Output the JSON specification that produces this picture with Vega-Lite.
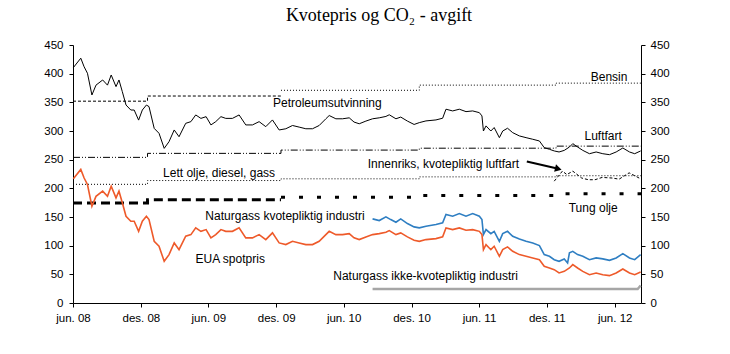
{
  "$schema": "https://vega.github.io/schema/vega-lite/v6.json",
  "width": 568,
  "height": 258,
  "autosize": "none",
  "padding": {"left": 73, "top": 45, "right": 89, "bottom": 51},
  "background": "white",
  "title": {
    "text": "Kvotepris og CO₂ - avgift",
    "font": "Liberation Serif",
    "fontSize": 18,
    "fontWeight": "normal",
    "color": "#000",
    "anchor": "middle",
    "offset": 14,
    "dx": 22
  },
  "config": {
    "view": {"stroke": null},
    "axis": {
      "domainColor": "#000",
      "tickColor": "#000",
      "labelColor": "#000",
      "labelFont": "Liberation Sans",
      "labelFontSize": 11.5,
      "grid": false,
      "tickSize": 4,
      "domainWidth": 1,
      "tickWidth": 1
    }
  },
  "datasets": {
    "eua": [
      {"t": "2008-06-02", "v": 216.6}, {"t": "2008-06-22", "v": 233}, {"t": "2008-07-01", "v": 218}, {"t": "2008-07-10", "v": 206.7},
      {"t": "2008-07-22", "v": 168.8}, {"t": "2008-08-02", "v": 186}, {"t": "2008-08-20", "v": 195}, {"t": "2008-09-02", "v": 186},
      {"t": "2008-09-12", "v": 203.7}, {"t": "2008-09-25", "v": 183.4}, {"t": "2008-10-03", "v": 195}, {"t": "2008-10-12", "v": 174.7},
      {"t": "2008-10-22", "v": 151.3}, {"t": "2008-11-04", "v": 142.6}, {"t": "2008-11-13", "v": 142.6}, {"t": "2008-11-25", "v": 125},
      {"t": "2008-12-05", "v": 142.6}, {"t": "2008-12-16", "v": 151.3}, {"t": "2008-12-23", "v": 145.5}, {"t": "2009-01-06", "v": 107.6},
      {"t": "2009-01-19", "v": 99}, {"t": "2009-02-02", "v": 72.7}, {"t": "2009-02-15", "v": 84.4}, {"t": "2009-03-01", "v": 104.8},
      {"t": "2009-03-14", "v": 93}, {"t": "2009-04-01", "v": 116.4}, {"t": "2009-04-15", "v": 119.3}, {"t": "2009-04-28", "v": 131},
      {"t": "2009-05-12", "v": 125}, {"t": "2009-05-26", "v": 128}, {"t": "2009-06-08", "v": 113.6}, {"t": "2009-06-21", "v": 119.3},
      {"t": "2009-07-05", "v": 128}, {"t": "2009-07-18", "v": 125}, {"t": "2009-08-05", "v": 125}, {"t": "2009-08-23", "v": 131},
      {"t": "2009-09-10", "v": 113.6}, {"t": "2009-09-28", "v": 113.6}, {"t": "2009-10-16", "v": 119.3}, {"t": "2009-11-03", "v": 110.6},
      {"t": "2009-11-21", "v": 122.3}, {"t": "2009-12-09", "v": 104.8}, {"t": "2009-12-27", "v": 101.9}, {"t": "2010-01-14", "v": 107.6},
      {"t": "2010-02-01", "v": 104.8}, {"t": "2010-02-19", "v": 101.9}, {"t": "2010-03-09", "v": 101.9}, {"t": "2010-03-27", "v": 107.6},
      {"t": "2010-04-14", "v": 119.3}, {"t": "2010-04-23", "v": 125}, {"t": "2010-05-11", "v": 119.3}, {"t": "2010-05-29", "v": 119.3},
      {"t": "2010-06-16", "v": 121}, {"t": "2010-06-29", "v": 113.6}, {"t": "2010-07-13", "v": 110.6}, {"t": "2010-07-31", "v": 115.3},
      {"t": "2010-08-18", "v": 119.3}, {"t": "2010-09-05", "v": 121}, {"t": "2010-09-23", "v": 123.4}, {"t": "2010-10-02", "v": 126.3},
      {"t": "2010-10-20", "v": 119.3}, {"t": "2010-11-02", "v": 122.3}, {"t": "2010-11-20", "v": 115.3}, {"t": "2010-12-08", "v": 109.4},
      {"t": "2010-12-22", "v": 107.6}, {"t": "2011-01-09", "v": 110.6}, {"t": "2011-02-05", "v": 112.3}, {"t": "2011-02-23", "v": 115.3},
      {"t": "2011-03-04", "v": 131}, {"t": "2011-03-22", "v": 128}, {"t": "2011-04-09", "v": 131}, {"t": "2011-04-27", "v": 126.8},
      {"t": "2011-05-15", "v": 128}, {"t": "2011-06-02", "v": 125}, {"t": "2011-06-09", "v": 119.3}, {"t": "2011-06-13", "v": 93},
      {"t": "2011-06-20", "v": 101.9}, {"t": "2011-07-03", "v": 93}, {"t": "2011-07-12", "v": 99}, {"t": "2011-07-26", "v": 81.4},
      {"t": "2011-08-04", "v": 93}, {"t": "2011-08-17", "v": 97.8}, {"t": "2011-08-31", "v": 90.1}, {"t": "2011-09-18", "v": 84.4},
      {"t": "2011-10-06", "v": 81.4}, {"t": "2011-10-24", "v": 78.6}, {"t": "2011-11-11", "v": 75.6}, {"t": "2011-11-24", "v": 64},
      {"t": "2011-12-08", "v": 61.1}, {"t": "2011-12-21", "v": 58.2}, {"t": "2012-01-03", "v": 52.4}, {"t": "2012-01-17", "v": 55.2},
      {"t": "2012-01-31", "v": 61.1}, {"t": "2012-02-09", "v": 66.9}, {"t": "2012-02-22", "v": 61.1}, {"t": "2012-03-07", "v": 55.2},
      {"t": "2012-03-25", "v": 49.4}, {"t": "2012-04-12", "v": 52.4}, {"t": "2012-04-30", "v": 49.4}, {"t": "2012-05-18", "v": 47.7},
      {"t": "2012-06-05", "v": 52.4}, {"t": "2012-06-23", "v": 59.4}, {"t": "2012-07-11", "v": 52.4}, {"t": "2012-07-25", "v": 49.4},
      {"t": "2012-08-10", "v": 54.2}
    ],
    "petro": [
      {"t": "2008-06-02", "v": 410.6}, {"t": "2008-06-22", "v": 427}, {"t": "2008-07-01", "v": 412}, {"t": "2008-07-10", "v": 400.7},
      {"t": "2008-07-22", "v": 362.8}, {"t": "2008-08-02", "v": 380}, {"t": "2008-08-20", "v": 389}, {"t": "2008-09-02", "v": 380},
      {"t": "2008-09-12", "v": 397.7}, {"t": "2008-09-25", "v": 377.4}, {"t": "2008-10-03", "v": 389}, {"t": "2008-10-12", "v": 368.7},
      {"t": "2008-10-22", "v": 345.3}, {"t": "2008-11-04", "v": 336.6}, {"t": "2008-11-13", "v": 336.6}, {"t": "2008-11-25", "v": 319},
      {"t": "2008-12-05", "v": 336.6}, {"t": "2008-12-16", "v": 345.3}, {"t": "2008-12-23", "v": 342.5}, {"t": "2009-01-06", "v": 304.6},
      {"t": "2009-01-19", "v": 296}, {"t": "2009-02-02", "v": 269.7}, {"t": "2009-02-15", "v": 281.4}, {"t": "2009-03-01", "v": 301.8},
      {"t": "2009-03-14", "v": 290}, {"t": "2009-04-01", "v": 313.4}, {"t": "2009-04-15", "v": 316.3}, {"t": "2009-04-28", "v": 328},
      {"t": "2009-05-12", "v": 322}, {"t": "2009-05-26", "v": 325}, {"t": "2009-06-08", "v": 310.6}, {"t": "2009-06-21", "v": 316.3},
      {"t": "2009-07-05", "v": 325}, {"t": "2009-07-18", "v": 322}, {"t": "2009-08-05", "v": 322}, {"t": "2009-08-23", "v": 328},
      {"t": "2009-09-10", "v": 310.6}, {"t": "2009-09-28", "v": 310.6}, {"t": "2009-10-16", "v": 316.3}, {"t": "2009-11-03", "v": 307.6},
      {"t": "2009-11-21", "v": 319.3}, {"t": "2009-12-09", "v": 301.8}, {"t": "2009-12-27", "v": 303.9}, {"t": "2010-01-14", "v": 309.6},
      {"t": "2010-02-01", "v": 306.8}, {"t": "2010-02-19", "v": 303.9}, {"t": "2010-03-09", "v": 303.9}, {"t": "2010-03-27", "v": 309.6},
      {"t": "2010-04-14", "v": 321.3}, {"t": "2010-04-23", "v": 327}, {"t": "2010-05-11", "v": 321.3}, {"t": "2010-05-29", "v": 321.3},
      {"t": "2010-06-16", "v": 323}, {"t": "2010-06-29", "v": 315.6}, {"t": "2010-07-13", "v": 312.6}, {"t": "2010-07-31", "v": 317.3},
      {"t": "2010-08-18", "v": 321.3}, {"t": "2010-09-05", "v": 323}, {"t": "2010-09-23", "v": 325.4}, {"t": "2010-10-02", "v": 328.3},
      {"t": "2010-10-20", "v": 321.3}, {"t": "2010-11-02", "v": 324.3}, {"t": "2010-11-20", "v": 317.3}, {"t": "2010-12-08", "v": 311.4},
      {"t": "2010-12-22", "v": 314.6}, {"t": "2011-01-09", "v": 317.6}, {"t": "2011-02-05", "v": 319.3}, {"t": "2011-02-23", "v": 322.3},
      {"t": "2011-03-04", "v": 338}, {"t": "2011-03-22", "v": 335}, {"t": "2011-04-09", "v": 338}, {"t": "2011-04-27", "v": 333.8},
      {"t": "2011-05-15", "v": 335}, {"t": "2011-06-02", "v": 332}, {"t": "2011-06-09", "v": 326.3}, {"t": "2011-06-13", "v": 300},
      {"t": "2011-06-20", "v": 308.9}, {"t": "2011-07-03", "v": 300}, {"t": "2011-07-12", "v": 306}, {"t": "2011-07-26", "v": 288.4},
      {"t": "2011-08-04", "v": 300}, {"t": "2011-08-17", "v": 304.8}, {"t": "2011-08-31", "v": 297.1}, {"t": "2011-09-18", "v": 291.4},
      {"t": "2011-10-06", "v": 288.4}, {"t": "2011-10-24", "v": 285.6}, {"t": "2011-11-11", "v": 282.6}, {"t": "2011-11-24", "v": 271},
      {"t": "2011-12-08", "v": 268.1}, {"t": "2011-12-21", "v": 265.2}, {"t": "2012-01-03", "v": 263.4}, {"t": "2012-01-17", "v": 266.2},
      {"t": "2012-01-31", "v": 272.1}, {"t": "2012-02-09", "v": 277.9}, {"t": "2012-02-22", "v": 272.1}, {"t": "2012-03-07", "v": 266.2},
      {"t": "2012-03-25", "v": 260.4}, {"t": "2012-04-12", "v": 263.4}, {"t": "2012-04-30", "v": 260.4}, {"t": "2012-05-18", "v": 258.7},
      {"t": "2012-06-05", "v": 263.4}, {"t": "2012-06-23", "v": 270.4}, {"t": "2012-07-11", "v": 263.4}, {"t": "2012-07-25", "v": 260.4},
      {"t": "2012-08-10", "v": 265.2}
    ],
    "ngk": [
      {"t": "2010-08-18", "v": 146.7}, {"t": "2010-09-05", "v": 143.8}, {"t": "2010-09-23", "v": 150.2}, {"t": "2010-10-06", "v": 145.5},
      {"t": "2010-10-20", "v": 140.8}, {"t": "2010-11-02", "v": 146.7}, {"t": "2010-11-20", "v": 138.5}, {"t": "2010-12-08", "v": 132.8},
      {"t": "2010-12-22", "v": 131}, {"t": "2011-01-09", "v": 133.8}, {"t": "2011-02-05", "v": 136.8}, {"t": "2011-02-23", "v": 139.8},
      {"t": "2011-03-04", "v": 154.3}, {"t": "2011-03-22", "v": 151.3}, {"t": "2011-04-09", "v": 156}, {"t": "2011-04-27", "v": 151.3},
      {"t": "2011-05-15", "v": 156}, {"t": "2011-06-02", "v": 151.3}, {"t": "2011-06-09", "v": 145.5}, {"t": "2011-06-13", "v": 119.3},
      {"t": "2011-06-20", "v": 128}, {"t": "2011-07-03", "v": 121}, {"t": "2011-07-12", "v": 125}, {"t": "2011-07-26", "v": 107.6},
      {"t": "2011-08-04", "v": 121}, {"t": "2011-08-17", "v": 125}, {"t": "2011-08-31", "v": 116.4}, {"t": "2011-09-18", "v": 111.8},
      {"t": "2011-10-06", "v": 107.6}, {"t": "2011-10-24", "v": 104.8}, {"t": "2011-11-11", "v": 100.1}, {"t": "2011-11-24", "v": 84.4},
      {"t": "2011-12-08", "v": 81.4}, {"t": "2011-12-21", "v": 75.6}, {"t": "2012-01-03", "v": 72.7}, {"t": "2012-01-17", "v": 76.9},
      {"t": "2012-01-26", "v": 69.9}, {"t": "2012-01-31", "v": 87.4}, {"t": "2012-02-09", "v": 90.1}, {"t": "2012-02-22", "v": 84.4},
      {"t": "2012-03-07", "v": 81.4}, {"t": "2012-03-25", "v": 75.6}, {"t": "2012-04-12", "v": 78.6}, {"t": "2012-04-30", "v": 76.9},
      {"t": "2012-05-18", "v": 74.4}, {"t": "2012-06-05", "v": 78.6}, {"t": "2012-06-23", "v": 86.1}, {"t": "2012-07-11", "v": 78.6},
      {"t": "2012-07-25", "v": 75.6}, {"t": "2012-08-10", "v": 84.4}
    ],
    "ngi": [
      {"t": "2010-08-18", "v": 24.5}, {"t": "2012-08-02", "v": 24.5}, {"t": "2012-08-10", "v": 30.5}
    ],
    "innen": [
      {"t": "2011-12-21", "v": 212.5}, {"t": "2012-01-12", "v": 230}, {"t": "2012-01-24", "v": 224}, {"t": "2012-02-09", "v": 230},
      {"t": "2012-03-04", "v": 218}, {"t": "2012-03-22", "v": 215}, {"t": "2012-04-09", "v": 215}, {"t": "2012-04-28", "v": 219},
      {"t": "2012-05-25", "v": 218}, {"t": "2012-06-13", "v": 216}, {"t": "2012-07-10", "v": 227}, {"t": "2012-07-28", "v": 221},
      {"t": "2012-08-10", "v": 216.6}
    ],
    "bensin1": [
      {"t": "2008-06-01", "v": 352}, {"t": "2008-12-19", "v": 361}, {"t": "2009-12-14", "v": 361}
    ],
    "bensin2": [
      {"t": "2009-12-14", "v": 371}, {"t": "2010-12-22", "v": 380}, {"t": "2011-12-26", "v": 383.5}, {"t": "2012-08-11", "v": 383.5}
    ],
    "luft": [
      {"t": "2008-06-01", "v": 254}, {"t": "2008-12-19", "v": 261}, {"t": "2009-12-14", "v": 266.7}, {"t": "2010-12-22", "v": 270}, {"t": "2011-12-26", "v": 273.6}, {"t": "2012-08-11", "v": 273.6}
    ],
    "lett": [
      {"t": "2008-06-01", "v": 207}, {"t": "2008-12-19", "v": 213.6}, {"t": "2009-12-14", "v": 216.6}, {"t": "2010-12-22", "v": 220}, {"t": "2011-12-26", "v": 222}, {"t": "2012-08-11", "v": 222}
    ],
    "tung1": [
      {"t": "2008-06-01", "v": 174.5}, {"t": "2008-12-19", "v": 180}, {"t": "2009-12-14", "v": 180}
    ],
    "tung2": [
      {"t": "2009-12-14", "v": 184.5}, {"t": "2010-12-22", "v": 187.5}, {"t": "2011-12-26", "v": 190.5}, {"t": "2012-08-11", "v": 190.5}
    ],
    "labels": [
      {"label": "Bensin", "t": "2012-05-17", "v": 394.8},
      {"label": "Petroleumsutvinning", "t": "2010-04-18", "v": 349.4},
      {"label": "Luftfart", "t": "2012-05-01", "v": 291},
      {"label": "Innenriks, kvotepliktig luftfart", "t": "2011-02-25", "v": 241.6},
      {"label": "Lett olje, diesel, gass", "t": "2009-06-30", "v": 227.1},
      {"label": "Tung olje", "t": "2012-04-04", "v": 166},
      {"label": "Naturgass kvotepliktig industri", "t": "2009-12-25", "v": 151.3},
      {"label": "EUA spotpris", "t": "2009-07-30", "v": 76.9},
      {"label": "Naturgass ikke-kvotepliktig industri", "t": "2011-01-08", "v": 46.5}
    ],
    "arrow": [
      {"t": "2011-10-08", "v": 246.9, "t2": "2012-01-01", "v2": 234}
    ]
  },
  "layer": [
    {
      "encoding": {
        "x": {
          "field": "t", "type": "temporal", "title": null,
          "scale": {"type": "utc", "domain": [{"year": 2008, "month": 6, "date": 1, "utc": true}, {"year": 2012, "month": 8, "date": 11, "utc": true}]},
          "axis": {
            "values": [
              {"year": 2008, "month": 6, "date": 1, "utc": true}, {"year": 2008, "month": 12, "date": 1, "utc": true},
              {"year": 2009, "month": 6, "date": 1, "utc": true}, {"year": 2009, "month": 12, "date": 1, "utc": true},
              {"year": 2010, "month": 6, "date": 1, "utc": true}, {"year": 2010, "month": 12, "date": 1, "utc": true},
              {"year": 2011, "month": 6, "date": 1, "utc": true}, {"year": 2011, "month": 12, "date": 1, "utc": true},
              {"year": 2012, "month": 6, "date": 1, "utc": true}
            ],
            "labelExpr": "(utcFormat(datum.value,'%m')=='06'?'jun. ':'des. ')+utcFormat(datum.value,'%y')",
            "labelPadding": 5,
            "labelFlush": false,
            "labelOverlap": false
          }
        },
        "y": {
          "field": "v", "type": "quantitative", "title": null,
          "scale": {"domain": [0, 450], "nice": false},
          "axis": {"orient": "left", "values": [0, 50, 100, 150, 200, 250, 300, 350, 400, 450], "labelPadding": 6}
        }
      },
      "layer": [
        {
          "data": {"name": "bensin1"},
          "mark": {"type": "line", "interpolate": "step-after", "color": "#000", "strokeWidth": 1, "strokeDash": [3, 2]},
          "encoding": {}
        },
        {
          "data": {"name": "bensin2"},
          "mark": {"type": "line", "interpolate": "step-after", "color": "#000", "strokeWidth": 1, "strokeDash": [1, 2]},
          "encoding": {}
        },
        {
          "data": {"name": "luft"},
          "mark": {"type": "line", "interpolate": "step-after", "color": "#000", "strokeWidth": 1, "strokeDash": [7, 2, 1, 2, 1, 2]},
          "encoding": {}
        },
        {
          "data": {"name": "lett"},
          "mark": {"type": "line", "interpolate": "step-after", "color": "#000", "strokeWidth": 1, "strokeDash": [1, 2]},
          "encoding": {}
        },
        {
          "data": {"name": "tung1"},
          "mark": {"type": "line", "interpolate": "step-after", "color": "#000", "strokeWidth": 3, "strokeDash": [9, 5]},
          "encoding": {}
        },
        {
          "data": {"name": "tung2"},
          "mark": {"type": "line", "interpolate": "step-after", "color": "#000", "strokeWidth": 3, "strokeDash": [4, 14]},
          "encoding": {}
        },
        {
          "data": {"name": "ngi"},
          "mark": {"type": "line", "color": "#A6A6A6", "strokeWidth": 2.5},
          "encoding": {}
        },
        {
          "data": {"name": "innen"},
          "mark": {"type": "line", "color": "#000", "strokeWidth": 1, "strokeDash": [3, 2]},
          "encoding": {}
        },
        {
          "data": {"name": "petro"},
          "mark": {"type": "line", "color": "#000", "strokeWidth": 1},
          "encoding": {}
        },
        {
          "data": {"name": "ngk"},
          "mark": {"type": "line", "color": "#2E7EC2", "strokeWidth": 1.6},
          "encoding": {}
        },
        {
          "data": {"name": "eua"},
          "mark": {"type": "line", "color": "#EE5A2A", "strokeWidth": 1.6},
          "encoding": {}
        },
        {
          "data": {"name": "labels"},
          "mark": {"type": "text", "font": "Liberation Sans", "fontSize": 12, "color": "#000", "align": "center", "baseline": "middle"},
          "encoding": {"text": {"field": "label"}}
        },
        {
          "data": {"name": "arrow"},
          "mark": {"type": "rule", "color": "#000", "strokeWidth": 2},
          "encoding": {"x2": {"field": "t2"}, "y2": {"field": "v2"}}
        },
        {
          "data": {"name": "arrow"},
          "mark": {"type": "point", "shape": "triangle-right", "filled": true, "color": "#000", "opacity": 1, "size": 60, "angle": 14},
          "encoding": {"x": {"field": "t2", "type": "temporal"}, "y": {"field": "v2", "type": "quantitative"}}
        }
      ]
    },
    {
      "data": {"values": [{"v": 0}]},
      "mark": {"type": "point", "opacity": 0},
      "encoding": {
        "y": {
          "field": "v", "type": "quantitative", "title": null,
          "scale": {"domain": [0, 450], "nice": false},
          "axis": {"orient": "right", "values": [0, 50, 100, 150, 200, 250, 300, 350, 400, 450], "labelPadding": 5}
        }
      }
    }
  ],
  "resolve": {"scale": {"y": "independent"}}
}
